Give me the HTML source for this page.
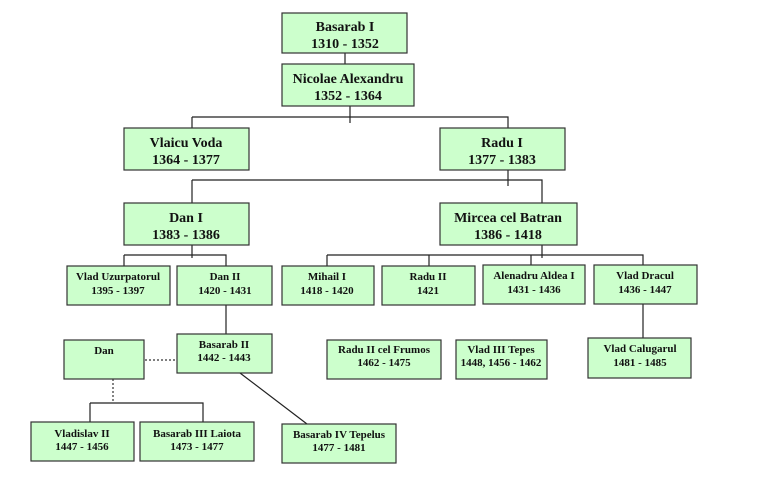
<!DOCTYPE html>
<html><head><meta charset="utf-8"><style>
html,body{margin:0;padding:0;background:#fff;}
svg{display:block}
text{font-family:"Liberation Serif",serif;font-weight:bold;fill:#111;text-anchor:middle}
.b{fill:#ccffcc;stroke:#333;stroke-width:1.2}
.l{stroke:#222;stroke-width:1.2;fill:none}
.d{stroke:#333;stroke-width:1.2;fill:none;stroke-dasharray:2,2}
.big{font-size:14px}
.sm{font-size:11px}
</style></head><body>
<svg width="768" height="479" viewBox="0 0 768 479" xmlns="http://www.w3.org/2000/svg">
<!-- lines -->
<path class="l" d="M345 53V64 M350 106V123 M192 117H508V128 M192 117V128 M508 170V186 M192 180H542V203 M192 180V203"/>
<path class="l" d="M192 245V258 M124 255H226V266 M124 255V266 M542 245V258 M327 255H643V265 M327 255V266 M429 255V266 M531 255V265 M643 265V338"/>
<path class="l" d="M226 305V334 M90 403H203V422 M90 403V422 M240 373L307 424"/>
<path class="d" d="M145 360H177 M113 379V403"/>
<!-- boxes -->
<rect class="b" x="282" y="13" width="125" height="40"/>
<text class="big" x="345" y="31">Basarab I</text><text class="big" x="345" y="48">1310 - 1352</text>
<rect class="b" x="282" y="64" width="132" height="42"/>
<text class="big" x="348" y="83">Nicolae Alexandru</text><text class="big" x="348" y="100">1352 - 1364</text>
<rect class="b" x="124" y="128" width="125" height="42"/>
<text class="big" x="186" y="147">Vlaicu Voda</text><text class="big" x="186" y="164">1364 - 1377</text>
<rect class="b" x="440" y="128" width="125" height="42"/>
<text class="big" x="502" y="147">Radu I</text><text class="big" x="502" y="164">1377 - 1383</text>
<rect class="b" x="124" y="203" width="125" height="42"/>
<text class="big" x="186" y="222">Dan I</text><text class="big" x="186" y="239">1383 - 1386</text>
<rect class="b" x="440" y="203" width="137" height="42"/>
<text class="big" x="508" y="222">Mircea cel Batran</text><text class="big" x="508" y="239">1386 - 1418</text>

<rect class="b" x="67" y="266" width="103" height="39"/>
<text class="sm" x="118" y="280">Vlad Uzurpatorul</text><text class="sm" x="118" y="294">1395 - 1397</text>
<rect class="b" x="177" y="266" width="95" height="39"/>
<text class="sm" x="225" y="280">Dan  II</text><text class="sm" x="225" y="294">1420 - 1431</text>
<rect class="b" x="282" y="266" width="92" height="39"/>
<text class="sm" x="327" y="280">Mihail I</text><text class="sm" x="327" y="294">1418 - 1420</text>
<rect class="b" x="382" y="266" width="93" height="39"/>
<text class="sm" x="428" y="280">Radu II</text><text class="sm" x="428" y="294">1421</text>
<rect class="b" x="483" y="265" width="102" height="39"/>
<text class="sm" x="534" y="279">Alenadru Aldea I</text><text class="sm" x="534" y="293">1431 - 1436</text>
<rect class="b" x="594" y="265" width="103" height="39"/>
<text class="sm" x="645" y="279">Vlad Dracul</text><text class="sm" x="645" y="293">1436 - 1447</text>

<rect class="b" x="64" y="340" width="80" height="39"/>
<text class="sm" x="104" y="354">Dan</text>
<rect class="b" x="177" y="334" width="95" height="39"/>
<text class="sm" x="224" y="348">Basarab II</text><text class="sm" x="224" y="361">1442 - 1443</text>
<rect class="b" x="327" y="340" width="114" height="39"/>
<text class="sm" x="384" y="353">Radu II cel Frumos</text><text class="sm" x="384" y="366">1462 - 1475</text>
<rect class="b" x="456" y="340" width="91" height="39"/>
<text class="sm" x="501" y="353">Vlad III Tepes</text><text class="sm" x="501" y="366">1448, 1456 - 1462</text>
<rect class="b" x="588" y="338" width="103" height="40"/>
<text class="sm" x="640" y="352">Vlad Calugarul</text><text class="sm" x="640" y="366">1481 - 1485</text>

<rect class="b" x="31" y="422" width="103" height="39"/>
<text class="sm" x="82" y="437">Vladislav II</text><text class="sm" x="82" y="450">1447 - 1456</text>
<rect class="b" x="140" y="422" width="114" height="39"/>
<text class="sm" x="197" y="437">Basarab III Laiota</text><text class="sm" x="197" y="450">1473 - 1477</text>
<rect class="b" x="282" y="424" width="114" height="39"/>
<text class="sm" x="339" y="438">Basarab IV Tepelus</text><text class="sm" x="339" y="451">1477 - 1481</text>
</svg>
</body></html>
